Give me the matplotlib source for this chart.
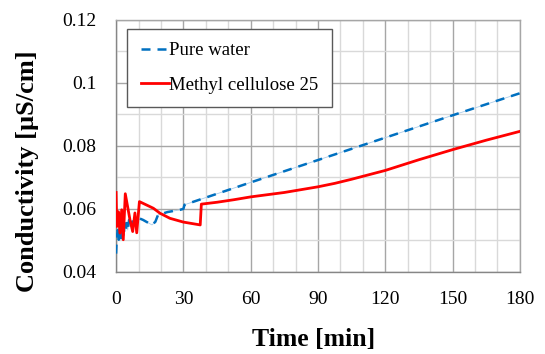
import matplotlib
matplotlib.use('Agg')
import matplotlib.pyplot as plt
from matplotlib.ticker import MultipleLocator, FixedLocator

# ---- Data ----
water_t = [0, 0.3, 0.8, 1.2, 1.7, 2.2, 2.7, 3.2, 3.7, 4.2, 4.7, 5.2, 5.8,
           6.5, 7.2, 8.0, 9.0, 10.0, 12.0, 16.0, 17.5, 18.7, 23.0, 28.5,
           30.0, 30.5, 60.0, 90.0, 120.0, 150.0, 180.0]
water_c = [0.0458, 0.0512, 0.0533, 0.0502, 0.0539, 0.0507, 0.0539, 0.0517,
           0.0555, 0.0528, 0.0555, 0.0533, 0.0565, 0.0545, 0.0560, 0.0550,
           0.0567, 0.0571, 0.0565, 0.0549, 0.0559, 0.0581, 0.0590, 0.0597,
           0.0600, 0.0613, 0.0684, 0.0755, 0.0826, 0.0897, 0.0967]

mc_t = [0, 0.3, 1.0, 1.7, 2.5, 3.2, 4.1, 6.2, 7.4, 8.4, 9.2, 10.4, 16.6,
        19.6, 24.0, 30.0, 37.5, 38.0, 45.0, 52.5, 60.0, 67.5, 75.0, 82.5,
        90.0, 97.5, 105.0, 112.5, 120.0, 127.5, 135.0, 142.5, 150.0, 157.5,
        165.0, 172.5, 180.0]
mc_c = [0.0652, 0.0544, 0.0591, 0.0523, 0.0597, 0.0502, 0.0648, 0.0565,
        0.0528, 0.0587, 0.0524, 0.0623, 0.0602, 0.0586, 0.0570, 0.0558,
        0.0549, 0.0615, 0.0621, 0.0629, 0.0638, 0.0645, 0.0652, 0.0661,
        0.0670, 0.0681, 0.0694, 0.0708, 0.0722, 0.0739, 0.0756, 0.0772,
        0.0788, 0.0803, 0.0818, 0.0832, 0.0846]

x_ticks = [0, 30, 60, 90, 120, 150, 180]
y_ticks = [0.04, 0.06, 0.08, 0.10, 0.12]
y_tick_labels = ['0.04', '0.06', '0.08', '0.1', '0.12']

BLUE = '#0070C0'
RED = '#FF0000'

plt.rcParams['font.family'] = ['Liberation Serif', 'DejaVu Serif']

fig = plt.figure(figsize=(5.45, 3.54), dpi=100)
ax = fig.add_axes([0.213, 0.232, 0.741, 0.712])

# faint connecting line under the dashes, as in the original rendering
ax.plot(water_t, water_c, color='#a9cbe8', lw=0.6, zorder=2)
ax.plot(water_t, water_c, color=BLUE, lw=1.8, dashes=(3.6, 2.8),
        label='Pure water', zorder=3)
ax.plot(mc_t, mc_c, color=RED, lw=2.0, label='Methyl cellulose 25', zorder=4)

ax.set_xlim(0, 180)
ax.set_ylim(0.04, 0.12)
ax.xaxis.set_major_locator(FixedLocator(x_ticks))
ax.xaxis.set_minor_locator(MultipleLocator(10))
ax.yaxis.set_major_locator(FixedLocator(y_ticks))
ax.yaxis.set_minor_locator(MultipleLocator(0.01))
ax.set_yticklabels(y_tick_labels)

ax.grid(True, which='major', color='#a6a6a6', lw=1.0)
ax.grid(True, which='minor', color='#d9d9d9', lw=1.0)
ax.set_axisbelow(True)

ax.tick_params(which='both', length=0)
ax.tick_params(axis='x', labelsize=14, pad=14)
ax.tick_params(axis='y', labelsize=14, pad=14)

for s in ax.spines.values():
    s.set_color('#a6a6a6')
    s.set_linewidth(1.0)
ax.spines['left'].set_color('#868686')
ax.spines['bottom'].set_color('#868686')

ax.set_xlabel('Time [min]', fontsize=18.5, fontweight='bold')
ax.set_ylabel('Conductivity [\u00b5S/cm]', fontsize=19, fontweight='bold')
ax.xaxis.set_label_coords(0.488, -0.222)
ax.yaxis.set_label_coords(-0.19, 0.40)

leg = ax.legend(loc='upper left', bbox_to_anchor=(0.028, 0.964), fontsize=13.5,
                frameon=True, fancybox=False, handlelength=1.53,
                handletextpad=0.0, borderpad=0.7, labelspacing=0.93,
                borderaxespad=0.0)
leg.get_frame().set_edgecolor('#595959')
leg.get_frame().set_linewidth(1.0)
leg.get_frame().set_alpha(1.0)

fig.savefig('out.png', dpi=100)
